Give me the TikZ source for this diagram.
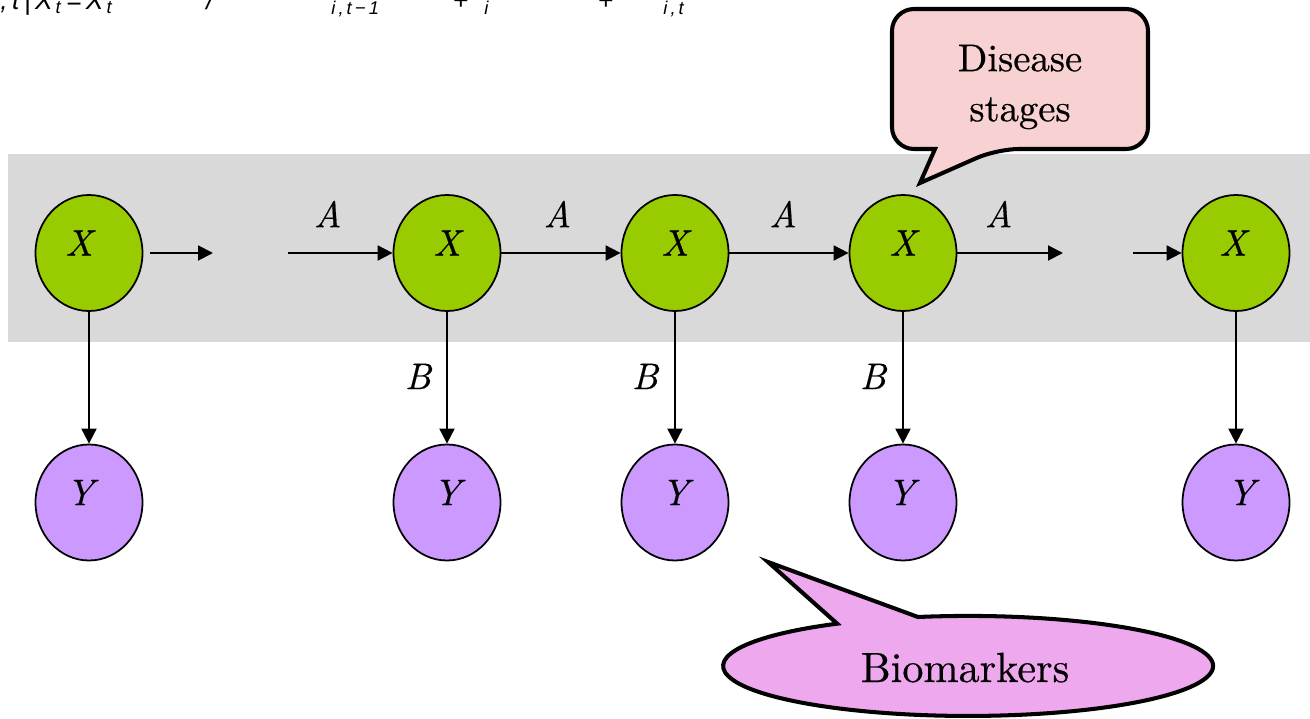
\documentclass[tikz,border=0pt]{standalone}
\usepackage{fontspec}
\setmainfont{lmroman10}[Extension=.otf, UprightFont=*-regular, ItalicFont=*-italic, BoldFont=*-bold, BoldItalicFont=*-bolditalic, FakeBold=0.5]
\newfontfamily\cutf{Liberation Sans}
\usetikzlibrary{arrows.meta,shapes.geometric}
\definecolor{xgreen}{HTML}{99CC00}
\definecolor{ypurple}{HTML}{CC99FF}
\definecolor{bandgray}{HTML}{D9D9D9}
\definecolor{dspink}{HTML}{F8D2D2}
\definecolor{bmpink}{HTML}{EEA8EE}
\begin{document}
\begin{tikzpicture}[
  xnode/.style={ellipse, draw=black, line width=1pt, fill=xgreen, minimum width=2.14cm, minimum height=2.32cm, inner sep=0pt},
  ynode/.style={ellipse, draw=black, line width=1pt, fill=ypurple, minimum width=2.14cm, minimum height=2.32cm, inner sep=0pt},
  lbl/.style={font=\rmfamily\fontsize{21}{25}\selectfont\itshape},
  inlbl/.style={lbl, yshift=0.2cm},
  arr/.style={line width=1.1pt, -{Triangle[length=0.3cm,width=0.3cm]}},
  callout/.style={draw=black, line width=2.3pt, line join=miter},
  cut/.style={font=\cutf\itshape\fontsize{15}{18}\selectfont, inner sep=0pt, anchor=base west}
]
\useasboundingbox (0,0) rectangle (26.2,-14.38);

% cut-off formula at top
\node[cut] (f1) at (0,-0.2) {,\,t\,|\,X\textsubscript{\,t}\,=\,X\textsubscript{\,t}};
\node[cut] (f2) at (4.12,-0.2) {/};
\node[cut] (f3) at (6.62,-0.2) {\textsubscript{i\,,\,t\,−\,1}};
\node[cut] (f4) at (9.05,-0.2) {+};
\node[cut] (f5) at (9.68,-0.2) {\textsubscript{i}};
\node[cut] (f6) at (11.95,-0.2) {+};
\node[cut] (f7) at (13.26,-0.2) {\textsubscript{i\,,\,t}};

% grey band
\fill[bandgray] (0.16,-3.08) rectangle (26.2,-6.84);

% state nodes
\node[xnode, label={[inlbl, xshift=-0.2cm]center:X}] (x1) at (1.78,-5.06) {};
\node[xnode, label={[inlbl]center:X}] (x2) at (8.94,-5.06) {};
\node[xnode, label={[inlbl]center:X}] (x3) at (13.50,-5.06) {};
\node[xnode, label={[inlbl]center:X}] (x4) at (18.06,-5.06) {};
\node[xnode, label={[inlbl, xshift=-0.06cm]center:X}] (x5) at (24.72,-5.06) {};

% observation nodes
\node[ynode, label={[inlbl, xshift=-0.18cm]center:Y}] (y1) at (1.78,-10.05) {};
\node[ynode, label={[inlbl]center:Y}] (y2) at (8.94,-10.05) {};
\node[ynode, label={[inlbl]center:Y}] (y3) at (13.50,-10.05) {};
\node[ynode, label={[inlbl, xshift=-0.04cm]center:Y}] (y4) at (18.06,-10.05) {};
\node[ynode, label={[inlbl, xshift=0.1cm]center:Y}] (y5) at (24.72,-10.05) {};

% free ends of the chain
\coordinate (e1) at (4.26,-5.06);
\coordinate (s1) at (5.76,-5.06);
\coordinate (e2) at (21.26,-5.06);
\coordinate (s2) at (22.66,-5.06);

% horizontal arrows
\draw[arr] ([xshift=0.14cm]x1.east) -- (e1);
\draw[arr] (s1) -- node[lbl, pos=0.38, yshift=0.78cm] {A} (x2);
\draw[arr] (x2) -- node[lbl, pos=0.47, yshift=0.78cm] {A} (x3);
\draw[arr] (x3) -- node[lbl, pos=0.45, yshift=0.78cm] {A} (x4);
\draw[arr] (x4) -- node[lbl, pos=0.39, yshift=0.78cm] {A} (e2);
\draw[arr] (s2) -- (x5);

% vertical arrows
\draw[arr] (x1) -- (y1);
\draw[arr] (x2) -- node[lbl, pos=0.49, xshift=-0.58cm] {B} (y2);
\draw[arr] (x3) -- node[lbl, pos=0.49, xshift=-0.6cm] {B} (y3);
\draw[arr] (x4) -- node[lbl, pos=0.49, xshift=-0.6cm] {B} (y4);
\draw[arr] (x5) -- (y5);

% callout: Disease stages
\draw[callout, fill=dspink, rounded corners=0.44cm]
  (18.70,-2.98) -- (17.84,-2.98) -- (17.84,-0.18) -- (22.96,-0.18) -- (22.96,-2.98)
  -- (19.94,-2.98) [sharp corners] -- (18.40,-3.66) -- cycle;
\node[font=\rmfamily\fontsize{22}{28.5}\selectfont, align=center] (ds) at (20.40,-1.74) {Disease\\stages};

% callout: Biomarkers
\coordinate (bmtip) at (15.36,-11.24);
\draw[callout, fill=bmpink]
  (bmtip) -- (18.36,-12.34) arc[start angle=101.8, end angle=-237.7, x radius=4.9cm, y radius=1.0cm] -- cycle;
\node[font=\rmfamily\fontsize{24}{28}\selectfont, anchor=base] (bm) at (19.30,-13.64) {Biomarkers};
\end{tikzpicture}
\end{document}
